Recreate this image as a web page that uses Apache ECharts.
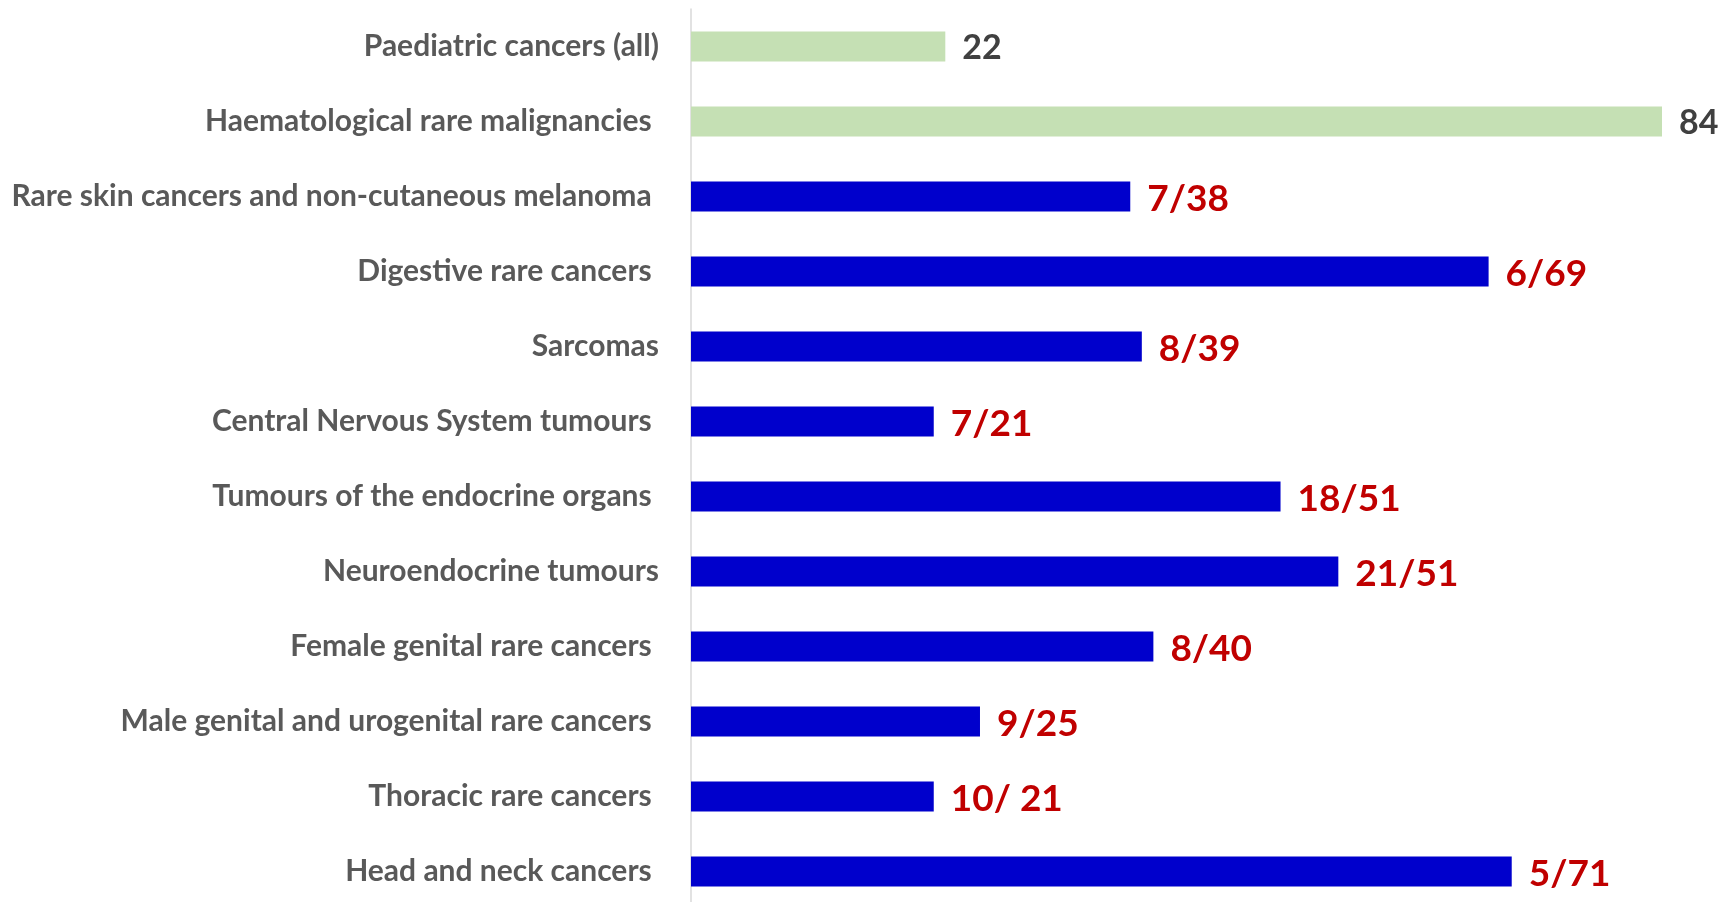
<!DOCTYPE html>
<html>
<head>
<meta charset="utf-8">
<title>Rare cancers</title>
<script src="https://cdn.jsdelivr.net/npm/echarts@6/dist/echarts.min.js"></script>
<style>
  html, body { margin: 0; padding: 0; background: #fff; overflow: hidden; }
  /* slightly taller than the window: the axis runs off the bottom edge like in the original */
  #chart { width: 1730px; height: 911px; }
</style>
</head>
<body>
<div id="chart"></div>
<script>
// categories, top to bottom (some carry a trailing space as in the source)
const categories = [
  'Paediatric cancers (all)',
  'Haematological rare malignancies ',
  'Rare skin cancers and non-cutaneous melanoma ',
  'Digestive rare cancers ',
  'Sarcomas',
  'Central Nervous System tumours ',
  'Tumours of the endocrine organs ',
  'Neuroendocrine tumours',
  'Female genital rare cancers ',
  'Male genital and urogenital rare cancers ',
  'Thoracic rare cancers ',
  'Head and neck cancers '
];
// green bars (whole groups)
const groupValues = [22, 84, null, null, null, null, null, null, null, null, null, null];
// blue bars
const rareValues = [null, null, 38, 69, 39, 21, 51, 56, 40, 25, 21, 71];
// text shown at the end of each bar
const barLabels = ['22', '84', '7/38', '6/69', '8/39', '7/21', '18/51', '21/51', '8/40', '9/25', '10/ 21', '5/71'];

const chart = echarts.init(document.getElementById('chart'));
const font = 'Lato, "Open Sans", sans-serif';

const option = {
  animation: false,
  grid: {
    left: 691,
    right: 68,
    top: 9,
    bottom: 2,
    containLabel: false
  },
  xAxis: {
    type: 'value',
    min: 0,
    max: 84,
    show: false,
    splitLine: { show: false }
  },
  yAxis: {
    type: 'category',
    inverse: true,
    data: categories,
    axisLine: { show: true, lineStyle: { color: '#d9d9d9', width: 1.5 } },
    axisTick: { show: false },
    axisLabel: {
      margin: 32,
      color: '#595959',
      fontFamily: font,
      fontWeight: 'bold',
      fontSize: 30
    }
  },
  series: [
    {
      name: 'groups',
      type: 'bar',
      barWidth: 30,
      barGap: '-100%',
      data: groupValues,
      itemStyle: { color: '#c5e0b4' },
      label: {
        show: true,
        position: 'right',
        distance: 17,
        offset: [0, 2],
        color: '#404040',
        fontFamily: font,
        fontWeight: 'bold',
        fontSize: 34,
        formatter: p => barLabels[p.dataIndex]
      }
    },
    {
      name: 'rare',
      type: 'bar',
      barWidth: 30,
      barGap: '-100%',
      data: rareValues,
      itemStyle: { color: '#0000cc' },
      label: {
        show: true,
        position: 'right',
        distance: 17,
        offset: [0, 3],
        color: '#c00000',
        fontFamily: font,
        fontWeight: 'bold',
        fontSize: 37,
        formatter: p => barLabels[p.dataIndex]
      }
    }
  ]
};

chart.setOption(option);
</script>
</body>
</html>
